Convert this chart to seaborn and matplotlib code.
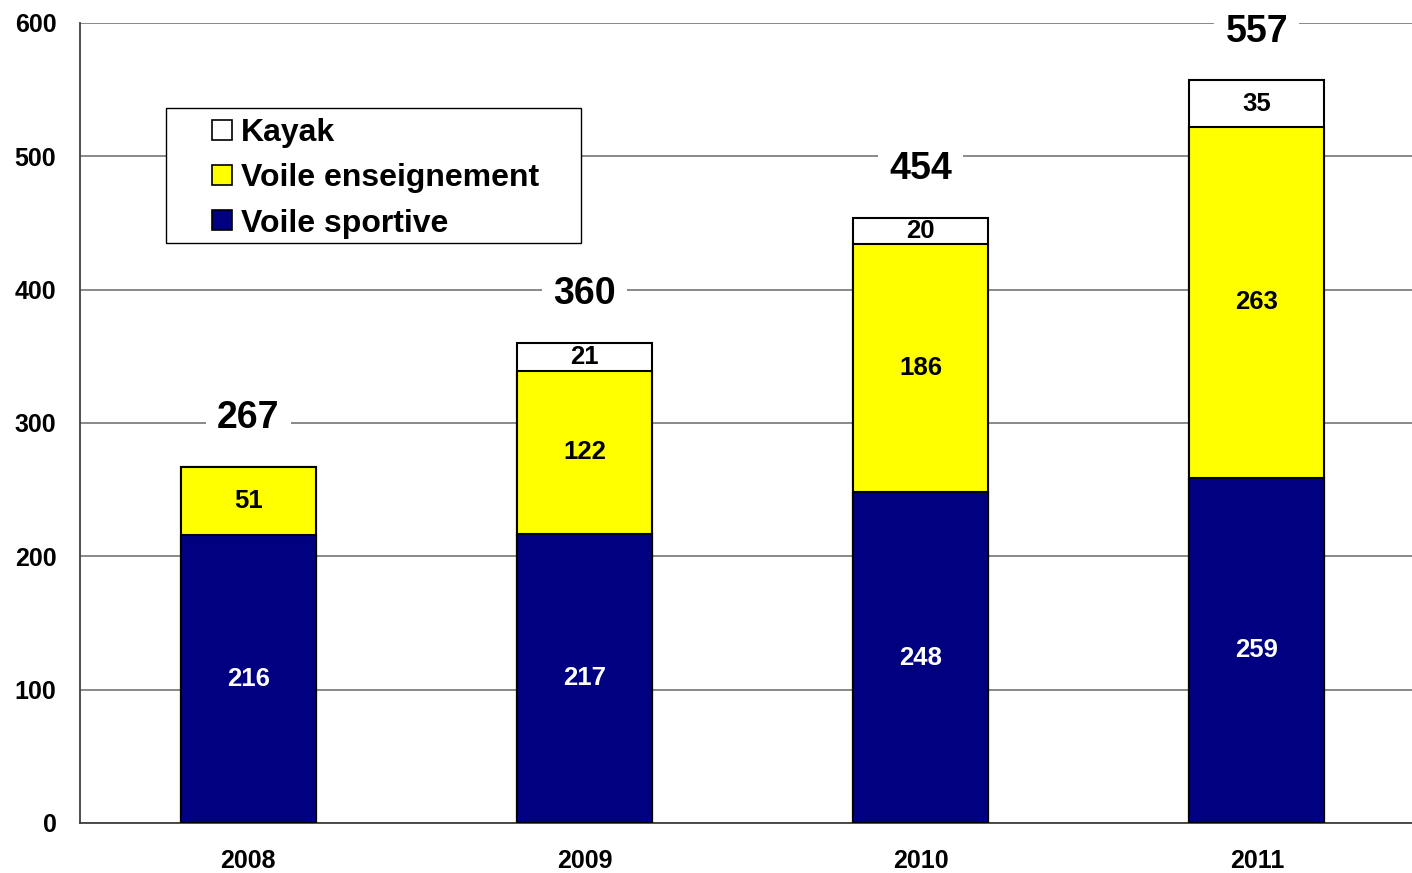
import matplotlib
matplotlib.use("Agg")
import matplotlib.pyplot as plt
from matplotlib.lines import Line2D
from matplotlib.patches import Rectangle
import seaborn as sns
import pandas as pd
import numpy as np

# Data
years = ['2008', '2009', '2010', '2011']
voile_sportive = [216, 217, 248, 259]
voile_enseignement = [51, 122, 186, 263]
kayak = [0, 21, 20, 35]

colors = {'Kayak': '#FFFFFF', 'Voile enseignement': '#FFFF00', 'Voile sportive': '#000080'}

df = pd.DataFrame({'year': years, 'sportive': voile_sportive,
                   'enseignement': voile_enseignement, 'kayak': kayak})
df['cum2'] = df['sportive'] + df['enseignement']
df['total'] = df['cum2'] + df['kayak']

sns.set_style("white")
plt.rcParams['font.family'] = ['Liberation Sans', 'DejaVu Sans']
plt.rcParams['font.weight'] = 'bold'
plt.rcParams['text.color'] = 'black'
plt.rcParams['xtick.color'] = 'black'
plt.rcParams['ytick.color'] = 'black'
plt.rcParams['xtick.labelcolor'] = 'black'
plt.rcParams['ytick.labelcolor'] = 'black'

fig = plt.figure(figsize=(14.12, 8.73), dpi=100)
# plot area runs slightly past the right edge, like the original
ax = fig.add_axes([80 / 1412, 50 / 873, 1345 / 1412, 800 / 873])

w = 0.401
# layered cumulative bars (tallest first)
sns.barplot(data=df, x='year', y='total', color=colors['Kayak'], width=w,
            edgecolor='black', linewidth=1.5, saturation=1, ax=ax, zorder=3)
sns.barplot(data=df, x='year', y='cum2', color=colors['Voile enseignement'], width=w,
            edgecolor='black', linewidth=1.5, saturation=1, ax=ax, zorder=3)
sns.barplot(data=df, x='year', y='sportive', color=colors['Voile sportive'], width=w,
            edgecolor='black', linewidth=1.5, saturation=1, ax=ax, zorder=3)

# segment labels
for i, row in df.iterrows():
    ax.text(i, row['sportive'] / 2, str(row['sportive']), ha='center', va='center',
            color='white', fontsize=18.5, fontweight='bold', zorder=5)
    ax.text(i, row['sportive'] + row['enseignement'] / 2, str(row['enseignement']),
            ha='center', va='center', color='black', fontsize=18.5, fontweight='bold', zorder=5)
    if row['kayak'] > 0:
        ax.text(i, row['cum2'] + row['kayak'] / 2, str(row['kayak']), ha='center',
                va='center', color='black', fontsize=18.5, fontweight='bold', zorder=5)
    ax.annotate(str(row['total']), xy=(i, row['total']), xytext=(0, 35),
                textcoords='offset points', ha='center', va='center',
                fontsize=27, fontweight='bold', color='black',
                bbox=dict(boxstyle='square,pad=0.3', fc='white', ec='none'), zorder=6)

ax.set_ylim(0, 600)
ax.set_xlim(-0.5, 3.5)
ax.set_yticks(range(0, 601, 100))
ax.yaxis.grid(True, color='#808080', linewidth=1.3, zorder=0)
ax.set_axisbelow(True)

ax.set_xticks(range(4))
ax.set_xticklabels(years)
ax.set_xticks(np.arange(-0.5, 4.0, 1.0), minor=True)
ax.tick_params(axis='x', which='major', length=0, pad=19, labelsize=18)
ax.tick_params(axis='x', which='minor', length=8, width=1.3, direction='out', color='#404040')
ax.tick_params(axis='y', length=8, width=1.3, direction='out', color='#404040', pad=9, labelsize=18)
for lab in ax.get_xticklabels() + ax.get_yticklabels():
    lab.set_fontweight('bold')
ax.set_xlabel('')
ax.set_ylabel('')

for s in ['top', 'right']:
    ax.spines[s].set_visible(False)
for s in ['left', 'bottom']:
    ax.spines[s].set_color('#404040')
    ax.spines[s].set_linewidth(1.3)

# legend box drawn separately so the padding matches the original
fig.patches.append(Rectangle((166 / 1412, 1 - 243 / 873), 415 / 1412, 135 / 873,
                             transform=fig.transFigure, fc='white', ec='black',
                             lw=1.0, zorder=4))
names = ['Kayak', 'Voile enseignement', 'Voile sportive']
handles = [Line2D([], [], marker='s', linestyle='', markersize=14,
                  markerfacecolor=colors[k], markeredgecolor='black', markeredgewidth=1.2)
           for k in names]
leg = fig.legend(handles, names, loc='upper left',
                 bbox_to_anchor=(211 / 1412, 1 - 118 / 873),
                 frameon=False, prop={'size': 23, 'weight': 'bold'},
                 handletextpad=0.25, labelspacing=0.48, borderpad=0,
                 handlelength=0.7, borderaxespad=0)
leg.set_zorder(5)

fig.savefig('out.png', dpi=100)
